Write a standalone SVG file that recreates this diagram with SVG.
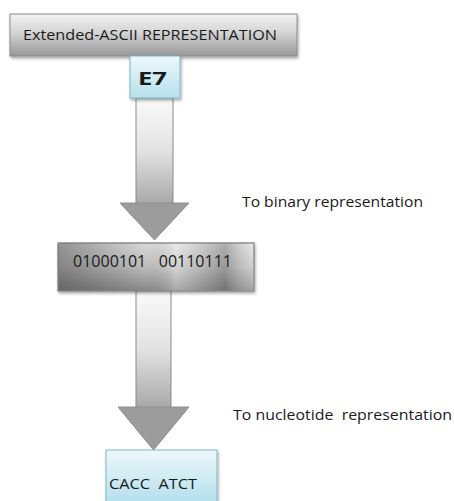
<svg xmlns="http://www.w3.org/2000/svg" width="454" height="501" viewBox="0 0 454 501">
  <defs>
    <linearGradient id="grayBox" x1="0" y1="0" x2="0" y2="1">
      <stop offset="0" stop-color="#f2f2f2"/>
      <stop offset="0.45" stop-color="#d4d4d4"/>
      <stop offset="1" stop-color="#979797"/>
    </linearGradient>
    <linearGradient id="darkBase" x1="0" y1="0" x2="0" y2="1">
      <stop offset="0" stop-color="#e2e2e2"/>
      <stop offset="0.5" stop-color="#c4c4c4"/>
      <stop offset="1" stop-color="#8c8c8c"/>
    </linearGradient>
    <linearGradient id="darkSheen" x1="0" y1="0" x2="1" y2="0">
      <stop offset="0" stop-color="#333" stop-opacity="0.45"/>
      <stop offset="0.45" stop-color="#333" stop-opacity="0.05"/>
      <stop offset="0.6" stop-color="#fff" stop-opacity="0.25"/>
      <stop offset="0.85" stop-color="#333" stop-opacity="0.3"/>
      <stop offset="1" stop-color="#fff" stop-opacity="0.2"/>
    </linearGradient>
    <linearGradient id="blueBox" x1="0" y1="0" x2="0" y2="1">
      <stop offset="0" stop-color="#eef8fb"/>
      <stop offset="1" stop-color="#b5e0ec"/>
    </linearGradient>
    <linearGradient id="shaft" x1="0" y1="0" x2="0" y2="1">
      <stop offset="0" stop-color="#fafafa"/>
      <stop offset="0.5" stop-color="#e2e2e2"/>
      <stop offset="1" stop-color="#a8a8a8"/>
    </linearGradient>
    <filter id="shadow" x="-10%" y="-20%" width="120%" height="150%">
      <feGaussianBlur in="SourceAlpha" stdDeviation="1.5"/>
      <feOffset dx="1" dy="2"/>
      <feComponentTransfer><feFuncA type="linear" slope="0.35"/></feComponentTransfer>
      <feMerge><feMergeNode/><feMergeNode in="SourceGraphic"/></feMerge>
    </filter>
  </defs>
  <style>
    .txt { font-family: "Open Sans", Lato, sans-serif; fill: #1a1a1a; }
    .box { stroke: #8c8c8c; stroke-width: 1; filter: url(#shadow); }
    .blue { stroke: #7fb8c8; stroke-width: 1; filter: url(#shadow); }
    .arrow { fill: url(#shaft); stroke: #8a8a8a; stroke-width: 1; }
    .head { fill: #9c9c9c; stroke: #8f8f8f; stroke-width: 1; }
  </style>

  <g id="connectors">
    <g id="arrow-binary">
      <rect class="arrow" x="136" y="98" width="37" height="106"/>
      <polygon class="head" points="120,203 189,203 154.5,240"/>
    </g>
    <g id="arrow-nucleotide">
      <rect class="arrow" x="136" y="291" width="35" height="117"/>
      <polygon class="head" points="118,407 189,407 153.5,450"/>
    </g>
  </g>

  <g id="node-ascii">
    <rect class="box" x="10" y="14" width="287" height="42" fill="url(#grayBox)"/>
    <text class="txt" x="23" y="40" font-size="15" textLength="254" lengthAdjust="spacingAndGlyphs">Extended-ASCII REPRESENTATION</text>
  </g>

  <g id="node-hex">
    <rect class="blue" x="130" y="56" width="50" height="42" fill="url(#blueBox)"/>
    <text class="txt" x="138" y="85" font-size="17" font-weight="bold" textLength="29" lengthAdjust="spacingAndGlyphs">E7</text>
  </g>

  <g id="node-binary">
    <rect class="box" x="58" y="243" width="196" height="48" fill="url(#darkBase)"/>
    <rect x="58" y="243" width="196" height="48" fill="url(#darkSheen)" stroke="#8c8c8c" stroke-width="1"/>
    <text class="txt" x="73" y="267" font-size="15.5" textLength="159" lengthAdjust="spacingAndGlyphs" xml:space="preserve">01000101   00110111</text>
  </g>

  <g id="node-nucleotide">
    <rect class="blue" x="106" y="450" width="111" height="52" fill="url(#blueBox)"/>
    <text class="txt" x="109" y="489" font-size="15" textLength="88" lengthAdjust="spacingAndGlyphs" xml:space="preserve">CACC  ATCT</text>
  </g>

  <g id="labels">
    <text class="txt" x="242" y="207" font-size="14.5" textLength="181" lengthAdjust="spacingAndGlyphs">To binary representation</text>
    <text class="txt" x="233" y="420" font-size="14.5" textLength="219" lengthAdjust="spacingAndGlyphs" xml:space="preserve">To nucleotide  representation</text>
  </g>
</svg>
